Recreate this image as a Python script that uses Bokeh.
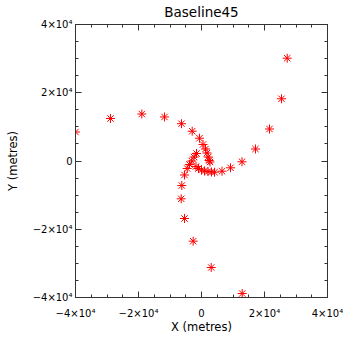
from bokeh.plotting import figure
from bokeh.models import (Range1d, SingleIntervalTicker, LinearAxis, CustomJSTickFormatter,
                          ColumnDataSource, CustomLabelingPolicy)
from bokeh.embed import file_html
from bokeh.resources import INLINE

title_text = "Baseline45"
x_label = "X (metres)"
y_label = "Y (metres)"

# West arm (outer -> centre)
west_x = [-40000, -28900, -18950, -11750, -6350, -2950, -640, 480, 1270, 1750, 2130, 2440, 2700]
west_y = [8500, 12450, 13770, 12900, 10930, 8730, 6680, 4840, 3520, 2340, 1170, 150, -290]

# East / north-east arm (centre -> outer)
east_x = [-1750, -950, 0, 950, 2060, 3180, 4130, 6510, 9210, 12860, 17140, 21590, 25400, 27210]
east_y = [-1610, -2200, -2640, -2930, -3080, -3220, -3280, -2990, -1990, -230, 3520, 9380, 18230, 30120]

# South arm (centre -> outer)
south_x = [-1590, -2380, -3080, -3810, -4540, -5400, -6250, -6440, -5400, -2640, 3080, 12920]
south_y = [2200, 1170, 0, -1030, -2200, -4100, -7180, -11080, -16850, -23500, -31210, -38830]

xs = west_x + east_x + south_x
ys = west_y + east_y + south_y
src = ColumnDataSource(dict(x=xs, y=ys))

FONT = "DejaVu Sans"

p = figure(frame_width=252, frame_height=273, output_backend="svg", toolbar_location=None,
           x_range=Range1d(-40000, 40000), y_range=Range1d(-40000, 40000),
           x_axis_location=None, y_axis_location=None,
           min_border_left=0, min_border_right=16, min_border_top=0, min_border_bottom=0,
           title=title_text)
p.margin = (0, 0, 0, 2)
p.xgrid.visible = False
p.ygrid.visible = False
p.outline_line_color = None
p.background_fill_color = "white"
p.border_fill_color = "white"

p.title.align = "center"
p.title.text_font = FONT
p.title.text_font_size = "13.5px"
p.title.text_font_style = "normal"
p.title.text_color = "black"
p.title.standoff = 2

fmt = CustomJSTickFormatter(code="""
if (tick == 0) { return "0"; }
const m = Math.abs(tick) / 10000;
return (tick < 0 ? "\u2212" : "") + m + "\u00d710\u2074";
""")

hide_all = CustomLabelingPolicy(code="return new Set()")

def make_axis(show_labels, label=None):
    ax = LinearAxis(ticker=SingleIntervalTicker(interval=20000, num_minor_ticks=4))
    ax.formatter = fmt
    ax.major_tick_in = 6
    ax.major_tick_out = 0
    ax.minor_tick_in = 3
    ax.minor_tick_out = 0
    ax.axis_line_color = "#333333"
    ax.major_tick_line_color = "#333333"
    ax.minor_tick_line_color = "#333333"
    ax.major_label_text_font = FONT
    ax.major_label_text_font_size = "10px"
    ax.major_label_text_color = "black"
    ax.axis_label_text_font = FONT
    ax.axis_label_text_font_size = "11.5px"
    ax.axis_label_text_font_style = "normal"
    ax.axis_label_text_color = "black"
    if not show_labels:
        ax.major_label_policy = hide_all
        ax.major_label_text_font_size = "1px"
        ax.major_label_standoff = 0
    if label:
        ax.axis_label = label
    return ax

bottom = make_axis(True, x_label)
bottom.major_label_standoff = 10
bottom.axis_label_standoff = -2
left = make_axis(True, y_label)
left.major_label_standoff = 3
left.axis_label_standoff = 10
p.add_layout(bottom, "below")
p.add_layout(left, "left")
p.add_layout(make_axis(False), "above")
p.add_layout(make_axis(False), "right")

p.scatter("x", "y", source=src, marker="asterisk", size=9, line_color="red", line_width=1)

open("out.html", "w").write(file_html(p, INLINE))
